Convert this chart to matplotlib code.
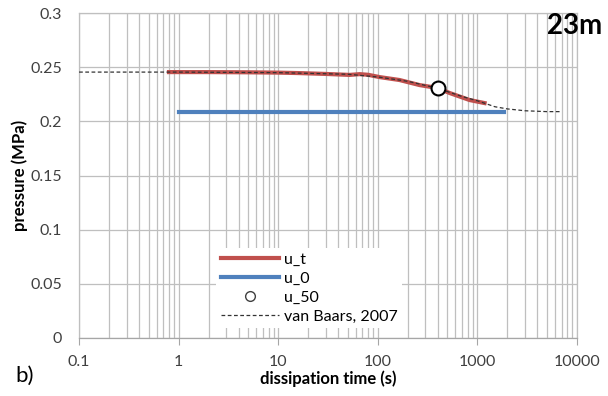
import matplotlib.pyplot as plt
from matplotlib.ticker import LogLocator, FixedLocator, NullFormatter

plt.rcParams['font.family'] = ['Lato', 'DejaVu Sans']

# measured pore pressure u_t
t_meas = [0.8, 2, 5, 10, 16, 30, 52, 66, 80, 104, 165, 263, 400, 526, 835, 1180]
u_t = [0.2455, 0.2455, 0.2453, 0.245, 0.2446, 0.2438, 0.2429, 0.2436, 0.2430,
       0.2409, 0.2382, 0.2335, 0.2308, 0.2262, 0.2197, 0.2169]

# hydrostatic pressure u_0
t_u0 = [1, 1830]
u_0 = [0.209, 0.209]

# 50% dissipation point
t_50 = [400]
u_50 = [0.2305]

# van Baars (2007) fit
t_fit = [0.1, 1, 10, 50, 100, 200, 400, 700, 1000, 1500, 2000, 3000, 5000, 7000]
u_fit = [0.2455, 0.2455, 0.245, 0.2435, 0.241, 0.237, 0.2305, 0.223, 0.219,
         0.2135, 0.2115, 0.2098, 0.209, 0.209]

fig = plt.figure(figsize=(6.08, 3.96), dpi=100)
ax = fig.add_axes([0.130, 0.1465, 0.819, 0.8205])

ax.plot(t_meas, u_t, color='#C0504D', lw=3, label='u_t', zorder=3)
ax.plot(t_u0, u_0, color='#4F81BD', lw=3, label='u_0', zorder=3)
ax.plot(t_50, u_50, 'o', ms=10, mfc='white', mec='black', mew=1.5,
        label='u_50', zorder=5)
ax.plot(t_fit, u_fit, color='#333333', lw=0.9, ls=(0, (3, 2)),
        label='van Baars, 2007', zorder=4)

ax.set_xscale('log')
ax.set_xlim(0.1, 10000)
ax.set_ylim(0, 0.3)
ax.xaxis.set_minor_locator(LogLocator(base=10, subs=range(2, 10), numticks=20))
ax.xaxis.set_minor_formatter(NullFormatter())
ax.set_xticks([0.1, 1, 10, 100, 1000, 10000])
ax.set_xticklabels(['0.1', '1', '10', '100', '1000', '10000'])
ax.yaxis.set_major_locator(FixedLocator([0, 0.05, 0.1, 0.15, 0.2, 0.25, 0.3]))
ax.set_yticklabels(['0', '0.05', '0.1', '0.15', '0.2', '0.25', '0.3'])

ax.grid(True, which='both', axis='x', color='#BFBFBF', lw=0.9)
ax.grid(True, which='major', axis='y', color='#BFBFBF', lw=0.9)
ax.set_axisbelow(True)

for s in ax.spines.values():
    s.set_color('#BFBFBF')
    s.set_linewidth(0.9)
ax.spines['bottom'].set_color('#A6A6A6')

ax.tick_params(axis='x', which='major', direction='out', length=5,
               color='#A6A6A6', pad=7, labelsize=11.5, labelcolor='#404040')
ax.tick_params(axis='x', which='minor', length=0)
ax.tick_params(axis='y', length=0, pad=12, labelsize=11.5, labelcolor='#404040')

ax.set_xlabel('dissipation time (s)', fontsize=12, fontweight='bold', labelpad=1)
ax.set_ylabel('pressure (MPa)', fontsize=12, fontweight='bold', labelpad=2)

fig.text(0.99, 0.935, '23m', fontsize=20, fontweight='bold', ha='right', va='center')
fig.text(0.026, 0.05, 'b)', fontsize=16, ha='left', va='center')

leg = ax.legend(loc='lower left', bbox_to_anchor=(0.26, 0.005), fontsize=11.5,
                frameon=True, fancybox=False, edgecolor='none', facecolor='white',
                framealpha=1, handlelength=3.6, labelspacing=0.3,
                borderpad=0.3, handletextpad=0.3)
leg.set_zorder(10)
mk = leg.legend_handles[2]
mk.set_markersize(7)
mk.set_markeredgecolor('#404040')
mk.set_markeredgewidth(1.0)

fig.savefig('out.png', dpi=100)
